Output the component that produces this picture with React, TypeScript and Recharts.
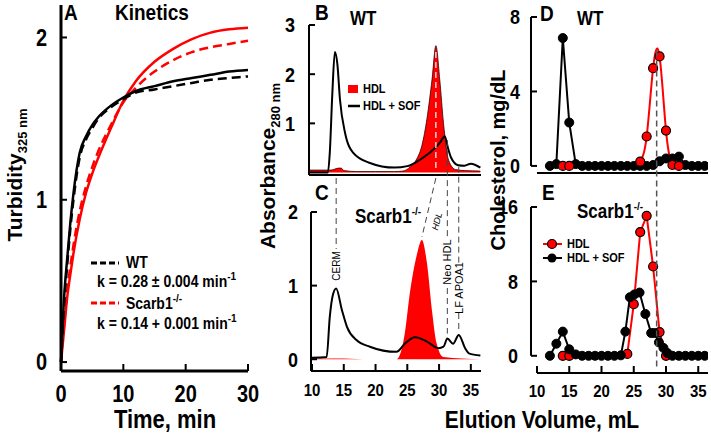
import { ComposedChart, Line, Area, XAxis, YAxis, ReferenceLine } from 'recharts';

const FONT = '"Liberation Sans", Arial, Helvetica, sans-serif';
const STRETCH = 1.15; // lettering in the figure is a bit taller than wide
const RED = '#ff0000';

// ---- A: kinetics (turbidity at 325 nm vs time)
const timeMin = [0, 0.5, 1, 1.5, 2, 3, 4, 5, 6, 8, 10, 12, 15, 18, 21, 24, 27, 30];
const wtData = [0, 0.4, 0.64, 0.86, 1.04, 1.29, 1.39, 1.46, 1.51, 1.58, 1.63, 1.67, 1.7, 1.73, 1.75, 1.77, 1.79, 1.8];
const wtFit = [0, 0.36, 0.6, 0.82, 1.0, 1.26, 1.37, 1.44, 1.5, 1.57, 1.62, 1.66, 1.68, 1.7, 1.72, 1.74, 1.75, 1.76];
const koData = [0, 0.2, 0.4, 0.54, 0.67, 0.88, 1.04, 1.16, 1.26, 1.44, 1.61, 1.73, 1.85, 1.93, 1.99, 2.03, 2.05, 2.06];
const koFit = [0, 0.23, 0.44, 0.59, 0.72, 0.93, 1.08, 1.2, 1.3, 1.46, 1.6, 1.69, 1.79, 1.86, 1.91, 1.94, 1.96, 1.98];

// ---- B: WT absorbance 280 nm
const bHdlVol = [9.6, 13, 14.2, 14.6, 15, 17, 20, 23, 24.3, 25.5, 26.5, 27.3, 28.1, 28.9, 29.5, 30.1, 30.7, 31.5, 32.6, 34, 36.5];
const bHdlAbs = [0.05, 0.05, 0.09, 0.09, 0.04, 0.02, 0.02, 0.02, 0.03, 0.12, 0.28, 0.55, 1.1, 1.9, 2.58, 1.9, 1.0, 0.25, 0.06, 0.04, 0.03];
const bSofVol = [9.6, 12.5, 12.8, 13.2, 13.6, 14.0, 14.4, 15.2, 16.5, 19, 23, 25, 26.5, 28, 29.1, 30.2, 30.9, 31.4, 31.9, 33, 34, 35, 36.5];
const bSofAbs = [0, 0, 0.4, 1.6, 2.45, 2.2, 1.49, 0.81, 0.4, 0.2, 0.1, 0.13, 0.22, 0.35, 0.47, 0.62, 0.74, 0.5, 0.3, 0.15, 0.14, 0.18, 0.1];

// ---- C: Scarb1-/- absorbance 280 nm
const cHdlVol = [9.9, 14, 18, 23.3, 24.0, 24.6, 25.4, 26.5, 27.3, 28.1, 28.9, 29.6, 30.7, 36.5];
const cHdlAbs = [0.01, 0.01, 0, 0, 0.1, 0.35, 0.9, 1.42, 1.62, 1.3, 0.65, 0.22, 0.03, 0];
const cSofVol = [9.9, 12.3, 12.8, 13.3, 13.8, 14.7, 15.5, 17, 19.1, 23.3, 24.6, 26.2, 28.1, 29.9, 30.7, 31.3, 32.2, 33.1, 34.1, 34.7, 36.5];
const cSofAbs = [0.02, 0.03, 0.58, 0.88, 0.96, 0.67, 0.44, 0.26, 0.17, 0.1, 0.21, 0.3, 0.24, 0.15, 0.17, 0.28, 0.21, 0.33, 0.15, 0.08, 0.05];

// ---- D: WT cholesterol
const dSofVol = [12, 13, 14, 15, 16, 17, 18, 19, 20, 21, 22, 23, 24, 25, 26, 27, 28, 29, 30, 31, 32, 33, 34, 35, 36];
const dSofChol = [0, 0.1, 6.87, 2.33, 0.1, 0, 0, 0, 0, 0, 0, 0, 0, 0, 0, 0, 0.05, 0.25, 0.4, 0.4, 0.5, 0.05, 0, 0, 0];
const dHdlVol = [14, 15, 20, 26, 27, 28, 29, 30, 31, 32];
const dHdlChol = [0, 0, null, 0.23, 1.58, 5.25, 5.88, 1.9, 0.05, 0];

// ---- E: Scarb1-/- cholesterol
const eSofVol = [12, 13, 14, 15, 16, 17, 18, 19, 20, 21, 22, 23, 23.7, 24.4, 25.1, 25.9, 26.8, 27.7, 28.2, 28.9, 29.6, 30.2, 31, 32, 33, 34, 35, 36];
const eSofChol = [0, 1.3, 2.6, 0.7, 0.15, 0, 0, 0, 0, 0, 0, 0.05, 2.6, 6.3, 6.6, 6.8, 4.5, 2.45, 2.45, 1.45, 0.85, 0.3, 0, 0, 0, 0, 0, 0];
const eHdlVol = [14, 15, 20, 24, 25, 26, 27, 28, 29, 30];
const eHdlChol = [0, 0, null, 0.2, 5.55, 13.3, 15.05, 9.6, 2.55, 0];

const zipRows = (xs: number[], ys: (number | null)[]) => xs.map((v, i) => ({ v, y: ys[i] }));
const kineticsRows = timeMin.map((t, i) => ({ t, wtData: wtData[i], wtFit: wtFit[i], koData: koData[i], koFit: koFit[i] }));

// plot boxes on the page (px) and their domains
const A_BOX = { left: 61, top: 5, right: 248, bottom: 371 };
const B_BOX = { left: 309, top: 25, right: 481, bottom: 175 };
const C_BOX = { left: 311, top: 212, right: 481, bottom: 371 };
const D_BOX = { left: 531, top: 17, right: 708, bottom: 173 };
const E_BOX = { left: 531, top: 207, right: 708, bottom: 373 };
const A_X = [0, 30];
const A_Y = [-0.055, 2.2];
const B_X = [9.53, 36.6];
const B_Y = [-0.05, 3];
const C_X = [9.84, 36.6];
const C_Y = [-0.16, 2];
const DE_X = [9.07, 36.51];
const D_Y = [-0.38, 8];
const E_Y = [-1.85, 16];

const lin = (d: number[], r0: number, r1: number) => (v: number) => r0 + ((v - d[0]) / (d[1] - d[0])) * (r1 - r0);
const bx = lin(B_X, B_BOX.left, B_BOX.right);
const by = lin(B_Y, B_BOX.bottom, B_BOX.top);
const cx = lin(C_X, C_BOX.left, C_BOX.right);
const cy = lin(C_Y, C_BOX.bottom, C_BOX.top);
const dx = lin(DE_X, D_BOX.left, D_BOX.right);
const dy = lin(D_Y, D_BOX.bottom, D_BOX.top);

function frame(box: any, yw: number, xh: number, mt = 16, mr = 16) {
  return {
    style: { position: 'absolute' as const, left: box.left - yw, top: box.top - mt },
    width: yw + (box.right - box.left) + mr,
    height: mt + (box.bottom - box.top) + xh,
    margin: { top: mt, right: mr, bottom: 0, left: 0 },
  };
}

function StretchTick(props: any) {
  const { x, y, payload, textAnchor, fs, side } = props;
  const shift = side === 'bottom' ? 0.72 * fs * STRETCH : 0.36 * fs * STRETCH;
  return (
    <g transform={`translate(${x},${y + shift}) scale(1,${STRETCH})`}>
      <text x={0} y={0} textAnchor={textAnchor} fontSize={fs} fontWeight={700} fontFamily={FONT} fill="#000">
        {payload.value}
      </text>
    </g>
  );
}

function Label({ x, y, fs, anchor = 'start', rotate = 0, weight = 700, italic = false, children }: any) {
  const stretch = rotate === 0 ? `scale(1,${STRETCH})` : '';
  return (
    <g transform={`translate(${x},${y}) rotate(${rotate}) ${stretch}`}>
      <text x={0} y={0} textAnchor={anchor} fontSize={fs} fontWeight={weight} fontStyle={italic ? 'italic' : 'normal'} fontFamily={FONT} fill="#000">
        {children}
      </text>
    </g>
  );
}

const dash = { stroke: '#444', strokeWidth: 1, strokeDasharray: '6 4' };

export default function App() {
  const fa = frame(A_BOX, 55, 50, 6);
  const fb = frame(B_BOX, 45, 2);
  const fc = frame(C_BOX, 45, 40);
  const fd = frame(D_BOX, 45, 12, 14, 3);
  const fe = frame(E_BOX, 45, 40, 14, 3);
  const blackDot = { r: 4.5, fill: '#000', stroke: '#000', strokeWidth: 1 };
  const redDot = { r: 4.5, fill: RED, stroke: '#000', strokeWidth: 1.2 };

  return (
    <div style={{ position: 'absolute', left: 0, top: 0, width: 711, height: 434, background: '#fff', overflow: 'hidden' }}>
      {/* A: kinetics */}
      <div style={fa.style}>
        <ComposedChart width={fa.width} height={fa.height} margin={fa.margin} data={kineticsRows}>
          <XAxis type="number" dataKey="t" domain={A_X} ticks={[0, 10, 20, 30]} height={50}
            axisLine={{ stroke: '#000', strokeWidth: 3 }} tickLine={{ stroke: '#000', strokeWidth: 2 }}
            tickSize={-7} tickMargin={21} tick={<StretchTick fs={20} side="bottom" />} />
          <YAxis type="number" domain={A_Y} ticks={[0, 1, 2]} width={55} allowDataOverflow
            axisLine={{ stroke: '#000', strokeWidth: 3 }} tickLine={{ stroke: '#000', strokeWidth: 2 }}
            tickSize={-6} tickMargin={20} tick={<StretchTick fs={20} side="left" />} />
          <Line type="monotone" dataKey="koData" stroke={RED} strokeWidth={2.5} dot={false} isAnimationActive={false} />
          <Line type="monotone" dataKey="koFit" stroke={RED} strokeWidth={2.5} strokeDasharray="9 5" dot={false} isAnimationActive={false} />
          <Line type="monotone" dataKey="wtData" stroke="#000" strokeWidth={2.5} dot={false} isAnimationActive={false} />
          <Line type="monotone" dataKey="wtFit" stroke="#000" strokeWidth={2.5} strokeDasharray="9 5" dot={false} isAnimationActive={false} />
        </ComposedChart>
      </div>

      {/* B: WT absorbance */}
      <div style={fb.style}>
        <ComposedChart width={fb.width} height={fb.height} margin={fb.margin}>
          <XAxis type="number" dataKey="v" domain={B_X} allowDataOverflow height={2} tick={false} tickLine={false}
            axisLine={{ stroke: '#000', strokeWidth: 2 }} />
          <YAxis type="number" domain={B_Y} ticks={[0, 1, 2, 3]} width={45} allowDataOverflow
            axisLine={{ stroke: '#000', strokeWidth: 2 }} tickLine={{ stroke: '#000', strokeWidth: 2 }}
            tickSize={-6} tickMargin={20} tick={<StretchTick fs={18} side="left" />} />
          <Area type="monotone" data={zipRows(bHdlVol, bHdlAbs)} dataKey="y" fill={RED} fillOpacity={1} stroke="#300" strokeWidth={0.8} isAnimationActive={false} />
          <Line type="monotone" data={zipRows(bSofVol, bSofAbs)} dataKey="y" stroke="#000" strokeWidth={2} dot={false} isAnimationActive={false} />
        </ComposedChart>
      </div>

      {/* C: Scarb1-/- absorbance */}
      <div style={fc.style}>
        <ComposedChart width={fc.width} height={fc.height} margin={fc.margin}>
          <XAxis type="number" dataKey="v" domain={C_X} allowDataOverflow ticks={[10, 15, 20, 25, 30, 35]} height={40}
            axisLine={{ stroke: '#000', strokeWidth: 2 }} tickLine={{ stroke: '#000', strokeWidth: 2 }}
            tickSize={-7} tickMargin={20} tick={<StretchTick fs={15} side="bottom" />} />
          <YAxis type="number" domain={C_Y} ticks={[0, 1, 2]} width={45} allowDataOverflow
            axisLine={{ stroke: '#000', strokeWidth: 2 }} tickLine={{ stroke: '#000', strokeWidth: 2 }}
            tickSize={-6} tickMargin={19} tick={<StretchTick fs={18} side="left" />} />
          <Area type="monotone" data={zipRows(cHdlVol, cHdlAbs)} dataKey="y" fill={RED} fillOpacity={1} stroke="none" isAnimationActive={false} />
          <Line type="monotone" data={zipRows(cSofVol, cSofAbs)} dataKey="y" stroke="#000" strokeWidth={2} dot={false} isAnimationActive={false} />
        </ComposedChart>
      </div>

      {/* D: WT cholesterol */}
      <div style={fd.style}>
        <ComposedChart width={fd.width} height={fd.height} margin={fd.margin}>
          <XAxis type="number" dataKey="v" domain={DE_X} allowDataOverflow ticks={[10, 15, 20, 25, 30, 35]} height={12}
            axisLine={false} tickLine={{ stroke: '#000', strokeWidth: 2 }} tickSize={-7} tick={false} />
          <YAxis type="number" domain={D_Y} ticks={[0, 4, 8]} width={45} allowDataOverflow
            axisLine={false} tickLine={{ stroke: '#000', strokeWidth: 2 }}
            tickSize={-6} tickMargin={17} tick={<StretchTick fs={18} side="left" />} />
          <ReferenceLine segment={[{ x: DE_X[0], y: 0 }, { x: DE_X[0], y: 8 }]} stroke="#000" strokeWidth={2} ifOverflow="visible" />
          <ReferenceLine segment={[{ x: 10, y: D_Y[0] }, { x: DE_X[1], y: D_Y[0] }]} stroke="#000" strokeWidth={2} ifOverflow="visible" />
          <Line type="linear" data={zipRows(dSofVol, dSofChol)} dataKey="y" stroke="#000" strokeWidth={2} dot={blackDot} isAnimationActive={false} />
          <Line type="natural" data={zipRows(dHdlVol, dHdlChol)} dataKey="y" stroke={RED} strokeWidth={2} dot={redDot} connectNulls={false} isAnimationActive={false} />
        </ComposedChart>
      </div>

      {/* E: Scarb1-/- cholesterol */}
      <div style={fe.style}>
        <ComposedChart width={fe.width} height={fe.height} margin={fe.margin}>
          <XAxis type="number" dataKey="v" domain={DE_X} allowDataOverflow ticks={[10, 15, 20, 25, 30, 35]} height={40}
            axisLine={false} tickLine={{ stroke: '#000', strokeWidth: 2 }}
            tickSize={-7} tickMargin={19} tick={<StretchTick fs={15} side="bottom" />} />
          <YAxis type="number" domain={E_Y} ticks={[0, 8, 16]} width={45} allowDataOverflow
            axisLine={false} tickLine={{ stroke: '#000', strokeWidth: 2 }}
            tickSize={-6} tickMargin={19} tick={<StretchTick fs={18} side="left" />} />
          <ReferenceLine segment={[{ x: DE_X[0], y: 0 }, { x: DE_X[0], y: 16 }]} stroke="#000" strokeWidth={2} ifOverflow="visible" />
          <ReferenceLine segment={[{ x: 10, y: E_Y[0] }, { x: DE_X[1], y: E_Y[0] }]} stroke="#000" strokeWidth={2} ifOverflow="visible" />
          <Line type="linear" data={zipRows(eHdlVol, eHdlChol)} dataKey="y" stroke={RED} strokeWidth={2} dot={redDot} connectNulls={false} isAnimationActive={false} />
          <Line type="linear" data={zipRows(eSofVol, eSofChol)} dataKey="y" stroke="#000" strokeWidth={2} dot={blackDot} isAnimationActive={false} />
        </ComposedChart>
      </div>

      {/* labels, legends and guide lines */}
      <svg width={711} height={434} style={{ position: 'absolute', left: 0, top: 0, pointerEvents: 'none' }}>
        {/* A */}
        <Label x={64} y={20} fs={19}>A</Label>
        <Label x={115} y={20} fs={19}>Kinetics</Label>
        <Label x={22} y={175} fs={21} anchor="middle" rotate={-90}>
          Turbidity<tspan fontSize={13} dy={5}>325 nm</tspan>
        </Label>
        <Label x={165} y={428} fs={22} anchor="middle">Time, min</Label>
        <line x1={91} y1={263} x2={119} y2={263} stroke="#000" strokeWidth={3} strokeDasharray="6 3" />
        <Label x={126} y={268} fs={14}>WT</Label>
        <Label x={97} y={287} fs={14}>
          k = 0.28 ± 0.004 min<tspan fontSize={10} dy={-6}>-1</tspan>
        </Label>
        <line x1={91} y1={303} x2={119} y2={303} stroke={RED} strokeWidth={3} strokeDasharray="6 3" />
        <Label x={126} y={309} fs={14}>
          Scarb1<tspan fontSize={10} dy={-6}>-/-</tspan>
        </Label>
        <Label x={97} y={329} fs={14}>
          k = 0.14 + 0.001 min<tspan fontSize={10} dy={-6}>-1</tspan>
        </Label>

        {/* B / C */}
        <Label x={315} y={20} fs={19}>B</Label>
        <Label x={350} y={25} fs={17}>WT</Label>
        <Label x={315} y={200} fs={19}>C</Label>
        <Label x={355} y={223} fs={17}>
          Scarb1<tspan fontSize={10} dy={-7}>-/-</tspan>
        </Label>
        <Label x={275} y={166} fs={21} anchor="middle" rotate={-90}>
          Absorbance<tspan fontSize={13} dy={5}>280 nm</tspan>
        </Label>
        <rect x={348} y={85} width={10} height={8} fill={RED} />
        <Label x={363} y={93} fs={11}>HDL</Label>
        <line x1={348} y1={106} x2={360} y2={106} stroke="#000" strokeWidth={2.5} />
        <Label x={363} y={110} fs={11}>HDL + SOF</Label>

        <line x1={bx(29.5)} y1={by(2.45)} x2={bx(29.5)} y2={by(0.02)} stroke="#fff" strokeWidth={1.2} strokeDasharray="6 4" />
        <line x1={cx(13.8)} y1={B_BOX.bottom + 3} x2={cx(13.8)} y2={249} {...dash} />
        <Label x={cx(13.8) + 4} y={266} fs={10} weight={400} anchor="middle" rotate={-90}>CERM</Label>
        <line x1={bx(29.5)} y1={B_BOX.bottom + 3} x2={cx(27.3)} y2={cy(1.62) - 3} {...dash} />
        <Label x={440} y={222} fs={9} weight={400} italic anchor="middle" rotate={-75}>HDL</Label>
        <line x1={cx(31.3)} y1={by(0.74) + 4} x2={cx(31.3)} y2={238} {...dash} />
        <line x1={cx(31.3)} y1={288} x2={cx(31.3)} y2={cy(0.28) - 5} {...dash} />
        <Label x={cx(31.3) + 4} y={262} fs={11} weight={400} anchor="middle" rotate={-90}>Neo HDL</Label>
        <line x1={cx(33.1)} y1={by(0.12)} x2={cx(33.1)} y2={264} {...dash} />
        <line x1={cx(33.1)} y1={313} x2={cx(33.1)} y2={cy(0.33) - 5} {...dash} />
        <Label x={cx(33.1) + 4} y={288} fs={11} weight={400} anchor="middle" rotate={-90}>LF APOA1</Label>

        {/* D / E */}
        <Label x={540} y={21} fs={19}>D</Label>
        <Label x={577} y={25} fs={17}>WT</Label>
        <Label x={542} y={200} fs={19}>E</Label>
        <Label x={577} y={218} fs={17}>
          Scarb1<tspan fontSize={10} dy={-7}>-/-</tspan>
        </Label>
        <Label x={505} y={160} fs={20} anchor="middle" rotate={-90}>Cholesterol, mg/dL</Label>
        <Label x={542} y={428} fs={21} anchor="middle">Elution Volume, mL</Label>
        <line x1={dx(28.55)} y1={dy(6.2)} x2={dx(28.55)} y2={370} stroke="#555" strokeWidth={1.5} strokeDasharray="6 4" />
        <line x1={543} y1={244} x2={562} y2={244} stroke={RED} strokeWidth={2} />
        <circle cx={552} cy={244} r={4.5} fill={RED} stroke="#000" strokeWidth={1.2} />
        <Label x={567} y={248} fs={11}>HDL</Label>
        <line x1={543} y1={258} x2={562} y2={258} stroke="#000" strokeWidth={2} />
        <circle cx={552} cy={258} r={4.5} fill="#000" />
        <Label x={567} y={262} fs={11}>HDL + SOF</Label>
      </svg>
    </div>
  );
}
